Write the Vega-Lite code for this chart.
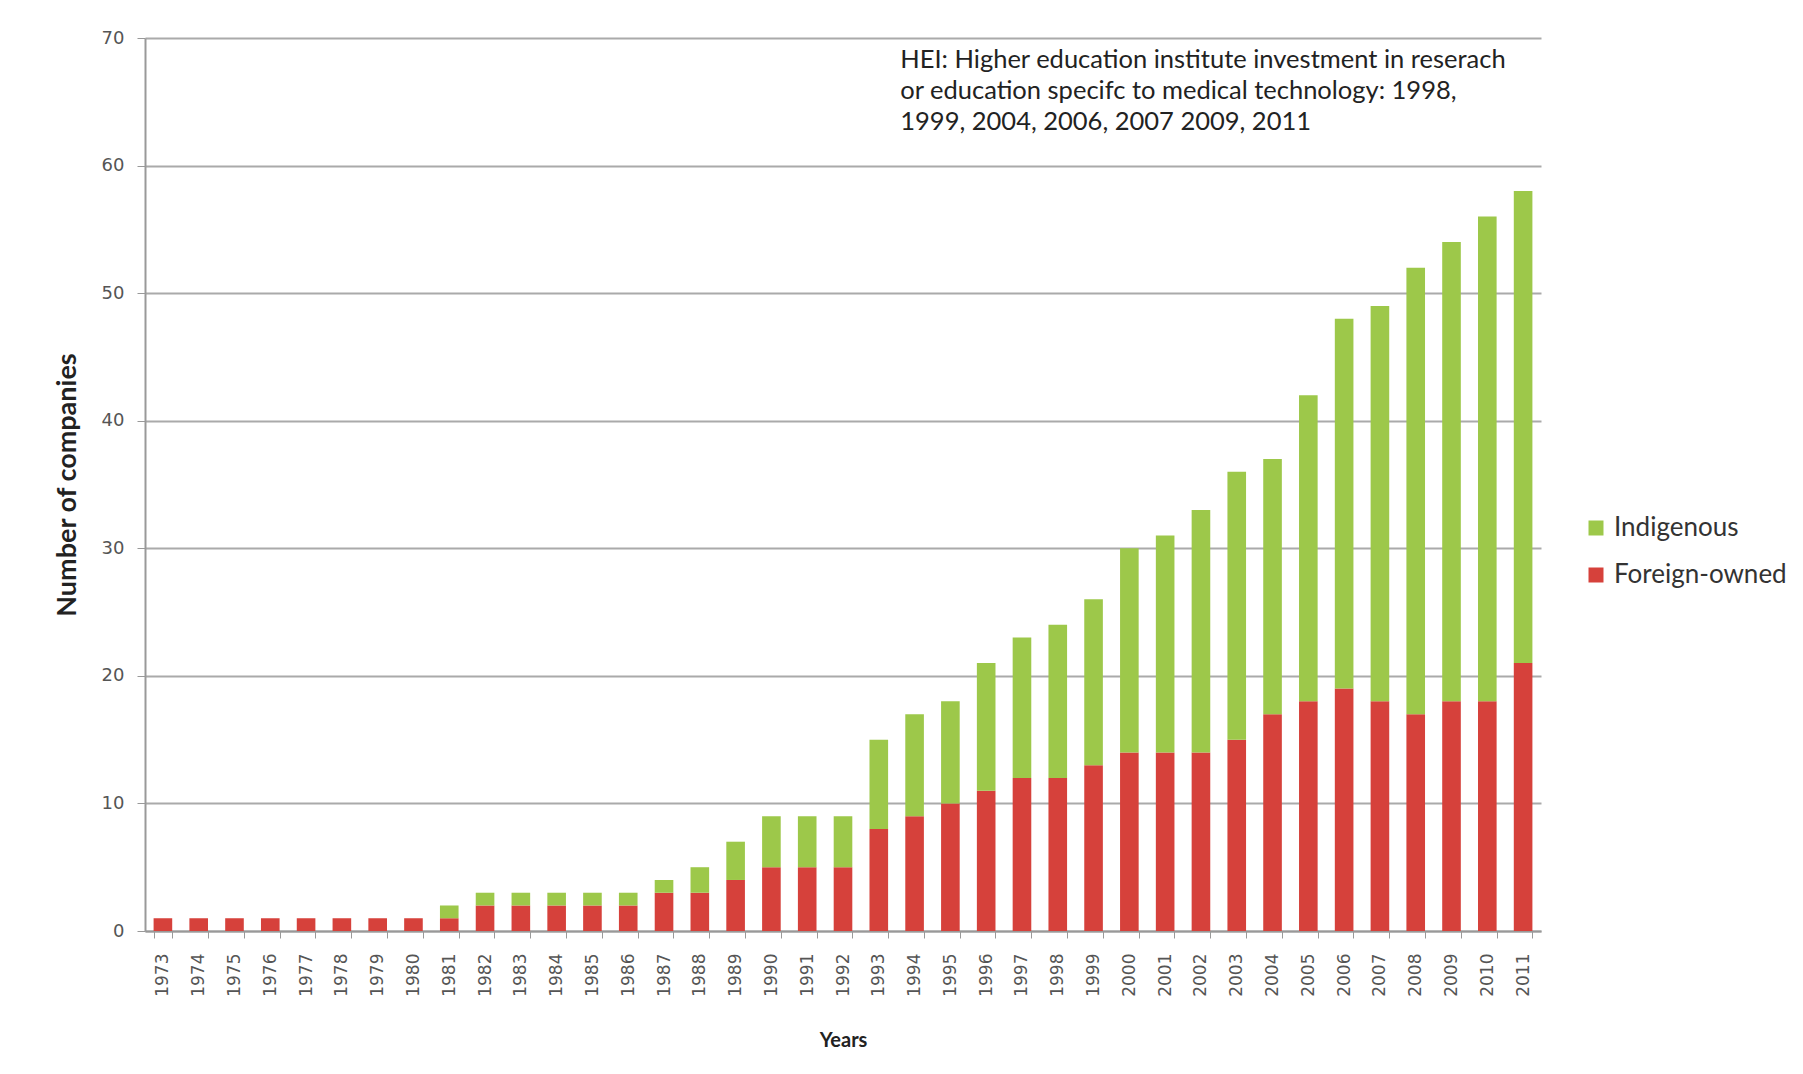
{
  "$schema": "https://vega.github.io/schema/vega-lite/v6.json",
  "autosize": "none",
  "width": 1396,
  "height": 893,
  "padding": {"left": 145, "top": 38, "right": 262, "bottom": 143},
  "background": "white",
  "config": {"view": {"stroke": null}},
  "datasets": {
    "bars": [
      {"year": "1973", "type": "Foreign-owned", "count": 1}, {"year": "1973", "type": "Indigenous", "count": 0},
      {"year": "1974", "type": "Foreign-owned", "count": 1}, {"year": "1974", "type": "Indigenous", "count": 0},
      {"year": "1975", "type": "Foreign-owned", "count": 1}, {"year": "1975", "type": "Indigenous", "count": 0},
      {"year": "1976", "type": "Foreign-owned", "count": 1}, {"year": "1976", "type": "Indigenous", "count": 0},
      {"year": "1977", "type": "Foreign-owned", "count": 1}, {"year": "1977", "type": "Indigenous", "count": 0},
      {"year": "1978", "type": "Foreign-owned", "count": 1}, {"year": "1978", "type": "Indigenous", "count": 0},
      {"year": "1979", "type": "Foreign-owned", "count": 1}, {"year": "1979", "type": "Indigenous", "count": 0},
      {"year": "1980", "type": "Foreign-owned", "count": 1}, {"year": "1980", "type": "Indigenous", "count": 0},
      {"year": "1981", "type": "Foreign-owned", "count": 1}, {"year": "1981", "type": "Indigenous", "count": 1},
      {"year": "1982", "type": "Foreign-owned", "count": 2}, {"year": "1982", "type": "Indigenous", "count": 1},
      {"year": "1983", "type": "Foreign-owned", "count": 2}, {"year": "1983", "type": "Indigenous", "count": 1},
      {"year": "1984", "type": "Foreign-owned", "count": 2}, {"year": "1984", "type": "Indigenous", "count": 1},
      {"year": "1985", "type": "Foreign-owned", "count": 2}, {"year": "1985", "type": "Indigenous", "count": 1},
      {"year": "1986", "type": "Foreign-owned", "count": 2}, {"year": "1986", "type": "Indigenous", "count": 1},
      {"year": "1987", "type": "Foreign-owned", "count": 3}, {"year": "1987", "type": "Indigenous", "count": 1},
      {"year": "1988", "type": "Foreign-owned", "count": 3}, {"year": "1988", "type": "Indigenous", "count": 2},
      {"year": "1989", "type": "Foreign-owned", "count": 4}, {"year": "1989", "type": "Indigenous", "count": 3},
      {"year": "1990", "type": "Foreign-owned", "count": 5}, {"year": "1990", "type": "Indigenous", "count": 4},
      {"year": "1991", "type": "Foreign-owned", "count": 5}, {"year": "1991", "type": "Indigenous", "count": 4},
      {"year": "1992", "type": "Foreign-owned", "count": 5}, {"year": "1992", "type": "Indigenous", "count": 4},
      {"year": "1993", "type": "Foreign-owned", "count": 8}, {"year": "1993", "type": "Indigenous", "count": 7},
      {"year": "1994", "type": "Foreign-owned", "count": 9}, {"year": "1994", "type": "Indigenous", "count": 8},
      {"year": "1995", "type": "Foreign-owned", "count": 10}, {"year": "1995", "type": "Indigenous", "count": 8},
      {"year": "1996", "type": "Foreign-owned", "count": 11}, {"year": "1996", "type": "Indigenous", "count": 10},
      {"year": "1997", "type": "Foreign-owned", "count": 12}, {"year": "1997", "type": "Indigenous", "count": 11},
      {"year": "1998", "type": "Foreign-owned", "count": 12}, {"year": "1998", "type": "Indigenous", "count": 12},
      {"year": "1999", "type": "Foreign-owned", "count": 13}, {"year": "1999", "type": "Indigenous", "count": 13},
      {"year": "2000", "type": "Foreign-owned", "count": 14}, {"year": "2000", "type": "Indigenous", "count": 16},
      {"year": "2001", "type": "Foreign-owned", "count": 14}, {"year": "2001", "type": "Indigenous", "count": 17},
      {"year": "2002", "type": "Foreign-owned", "count": 14}, {"year": "2002", "type": "Indigenous", "count": 19},
      {"year": "2003", "type": "Foreign-owned", "count": 15}, {"year": "2003", "type": "Indigenous", "count": 21},
      {"year": "2004", "type": "Foreign-owned", "count": 17}, {"year": "2004", "type": "Indigenous", "count": 20},
      {"year": "2005", "type": "Foreign-owned", "count": 18}, {"year": "2005", "type": "Indigenous", "count": 24},
      {"year": "2006", "type": "Foreign-owned", "count": 19}, {"year": "2006", "type": "Indigenous", "count": 29},
      {"year": "2007", "type": "Foreign-owned", "count": 18}, {"year": "2007", "type": "Indigenous", "count": 31},
      {"year": "2008", "type": "Foreign-owned", "count": 17}, {"year": "2008", "type": "Indigenous", "count": 35},
      {"year": "2009", "type": "Foreign-owned", "count": 18}, {"year": "2009", "type": "Indigenous", "count": 36},
      {"year": "2010", "type": "Foreign-owned", "count": 18}, {"year": "2010", "type": "Indigenous", "count": 38},
      {"year": "2011", "type": "Foreign-owned", "count": 21}, {"year": "2011", "type": "Indigenous", "count": 37}
    ],
    "note": [
      {"year": "1994", "value": 68.3, "text": ["HEI: Higher education institute investment in reserach", "or education specifc to medical technology: 1998,", "1999, 2004, 2006, 2007 2009, 2011"]}
    ]
  },
  "layer": [
    {
      "data": {"name": "bars"},
      "transform": [{"calculate": "datum.type === 'Foreign-owned' ? 0 : 1", "as": "stackOrder"}],
      "mark": {"type": "bar"},
      "encoding": {
        "x": {
          "field": "year", "type": "nominal", "sort": null,
          "scale": {"paddingInner": 0.48, "paddingOuter": 0.24},
          "axis": {
            "title": "Years", "titleFont": "Lato", "titleFontSize": 20, "titleFontWeight": "bold", "titleColor": "#222",
            "titlePadding": 34,
            "labelAngle": -90, "labelFont": "DejaVu Sans", "labelFontSize": 17, "labelColor": "#555",
            "labelPadding": 15, "tickBand": "extent", "tickSize": 7, "tickColor": "#999",
            "domainColor": "#999", "domainWidth": 2
          }
        },
        "y": {
          "field": "count", "type": "quantitative", "stack": "zero",
          "scale": {"domain": [0, 70]},
          "axis": {
            "title": "Number of companies", "titleFont": "Lato", "titleFontSize": 27, "titleFontWeight": "bold", "titleColor": "#222",
            "titlePadding": 20,
            "values": [0, 10, 20, 30, 40, 50, 60, 70],
            "labelFont": "DejaVu Sans", "labelFontSize": 18, "labelColor": "#555", "labelPadding": 13,
            "tickSize": 8, "tickColor": "#999", "domainColor": "#999", "domainWidth": 2,
            "grid": true, "gridColor": "#aaa", "gridWidth": 2
          }
        },
        "color": {
          "field": "type", "type": "nominal",
          "scale": {"domain": ["Indigenous", "Foreign-owned"], "range": ["#9dc84a", "#d6413b"]},
          "legend": {
            "title": null, "orient": "none", "legendX": 1438, "legendY": 477,
            "symbolType": "square", "symbolSize": 225, "symbolStrokeWidth": 0,
            "labelFont": "Lato", "labelFontSize": 26, "labelColor": "#333", "labelLimit": 400, "rowPadding": 21, "labelOffset": 5
          }
        },
        "order": {"field": "stackOrder", "type": "quantitative"}
      }
    },
    {
      "data": {"name": "note"},
      "mark": {"type": "text", "align": "left", "baseline": "middle", "font": "Lato", "fontSize": 25.5, "lineHeight": 31, "color": "#222", "xOffset": -5},
      "encoding": {
        "x": {"field": "year", "type": "nominal", "bandPosition": 0},
        "y": {"field": "value", "type": "quantitative"},
        "text": {"field": "text"}
      }
    }
  ]
}
